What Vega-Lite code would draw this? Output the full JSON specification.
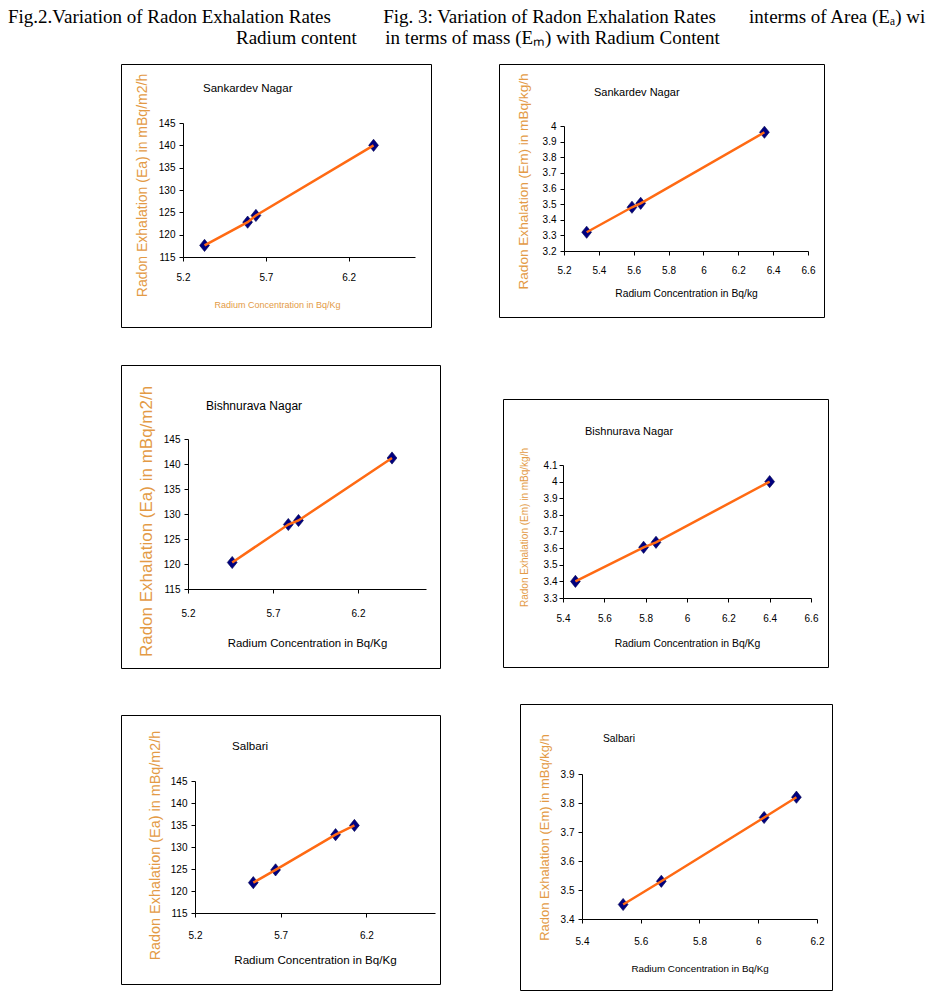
{
  "$schema": "https://vega.github.io/schema/vega-lite/v6.json",
  "padding": {"left": 8, "top": 8, "right": 0, "bottom": 0},
  "background": "white",
  "title": {
    "text": [
      "Fig.2.Variation of Radon Exhalation Rates\u00a0\u00a0\u00a0\u00a0\u00a0\u00a0\u00a0\u00a0\u00a0\u00a0\u00a0Fig. 3: Variation of Radon Exhalation Rates\u00a0\u00a0\u00a0\u00a0\u00a0\u00a0\u00a0interms of Area (E\u2090) wi",
      "\u200b\u00a0\u00a0\u00a0\u00a0\u00a0\u00a0\u00a0\u00a0\u00a0\u00a0\u00a0\u00a0\u00a0\u00a0\u00a0\u00a0\u00a0\u00a0\u00a0\u00a0\u00a0\u00a0\u00a0\u00a0\u00a0\u00a0\u00a0\u00a0\u00a0\u00a0\u00a0\u00a0\u00a0\u00a0\u00a0\u00a0\u00a0\u00a0\u00a0\u00a0\u00a0\u00a0\u00a0\u00a0\u00a0\u00a0\u00a0\u00a0Radium content\u00a0\u00a0\u00a0\u00a0\u00a0\u00a0in terms of mass (E\u2098) with Radium Content"
    ],
    "anchor": "start", "frame": "group", "dx": -113, "offset": 15.5,
    "fontSize": 19, "lineHeight": 21, "font": "Liberation Serif", "fontWeight": "normal", "color": "#000"
  },
  "datasets": {
    "sankardev": [
      {"site": "Sankardev Nagar", "ra": 5.33, "ea": 117.6, "em": 3.32},
      {"site": "Sankardev Nagar", "ra": 5.59, "ea": 122.8, "em": 3.48},
      {"site": "Sankardev Nagar", "ra": 5.64, "ea": 124.3, "em": 3.505},
      {"site": "Sankardev Nagar", "ra": 6.35, "ea": 140.0, "em": 3.96}
    ],
    "bishnurava": [
      {"site": "Bishnurava Nagar", "ra": 5.46, "ea": 120.3, "em": 3.40},
      {"site": "Bishnurava Nagar", "ra": 5.79, "ea": 127.9, "em": 3.605},
      {"site": "Bishnurava Nagar", "ra": 5.85, "ea": 128.7, "em": 3.635},
      {"site": "Bishnurava Nagar", "ra": 6.40, "ea": 141.2, "em": 4.0}
    ],
    "salbari": [
      {"site": "Salbari", "ra": 5.54, "ea": 121.9, "em": 3.45},
      {"site": "Salbari", "ra": 5.67, "ea": 124.8, "em": 3.53},
      {"site": "Salbari", "ra": 6.02, "ea": 132.8, "em": 3.75},
      {"site": "Salbari", "ra": 6.13, "ea": 134.9, "em": 3.82}
    ]
  },
  "columns": 2,
  "align": "none",
  "bounds": "full",
  "spacing": 0,
  "concat": [
    {
      "width": 310, "height": 263,
      "data": {"name": "sankardev"},
      "title": {"text": "Sankardev Nagar", "anchor": "start", "frame": "group", "dx": 82, "offset": -36, "baseline": "middle", "fontSize": 11.5},
      "layer": [
        {
          "mark": {"type": "point", "shape": "M0,-1L0.8,0L0,1L-0.8,0Z", "filled": true, "fill": "#000080", "stroke": "#00004a", "strokeWidth": 0.6, "size": 150, "opacity": 1},
          "encoding": {
            "x": {"field": "ra", "type": "quantitative",
              "scale": {"domain": [5.2, 6.6], "range": [62, 294], "nice": false, "zero": false},
              "axis": {"orient": "bottom", "offset": -70, "values": [5.2, 5.7, 6.2], "format": "~g", "labelPadding": 11, "minExtent": 18, "maxExtent": 18,
                "title": "Radium Concentration in Bq/Kg", "titleColor": "#E39A45", "titleFontSize": 9, "titlePadding": 25.5, "titleX": 156}},
            "y": {"field": "ea", "type": "quantitative",
              "scale": {"domain": [115, 145], "range": [193, 59], "nice": false, "zero": false},
              "axis": {"orient": "left", "offset": -62, "values": [115, 120, 125, 130, 135, 140, 145], "format": "~g", "labelPadding": 4, "minExtent": 22, "maxExtent": 22,
                "title": "Radon Exhalation (Ea) in mBq/m2/h", "titleColor": "#E39A45", "titleFontSize": 14, "titlePadding": 11.3, "titleY": 121}}
          }
        },
        {
          "mark": {"type": "line", "color": "#FF6A13", "strokeWidth": 2.5},
          "encoding": {
            "x": {"field": "ra", "type": "quantitative", "axis": null},
            "y": {"field": "ea", "type": "quantitative", "axis": null}
          }
        }
      ],
      "resolve": {"axis": {"x": "independent", "y": "independent"}}
    },
    {
      "width": 325, "height": 253,
      "data": {"name": "sankardev"},
      "title": {"text": "Sankardev Nagar", "anchor": "start", "frame": "group", "dx": 95, "offset": -40, "baseline": "middle", "fontSize": 11},
      "layer": [
        {
          "mark": {"type": "point", "shape": "M0,-1L0.8,0L0,1L-0.8,0Z", "filled": true, "fill": "#000080", "stroke": "#00004a", "strokeWidth": 0.6, "size": 150, "opacity": 1},
          "encoding": {
            "x": {"field": "ra", "type": "quantitative",
              "scale": {"domain": [5.2, 6.6], "range": [65, 309], "nice": false, "zero": false},
              "axis": {"orient": "bottom", "offset": -66, "values": [5.2, 5.4, 5.6, 5.8, 6, 6.2, 6.4, 6.6], "format": "~g", "labelPadding": 10, "minExtent": 18, "maxExtent": 18,
                "title": "Radium Concentration in Bq/kg", "titleColor": "#000", "titleFontSize": 10.3, "titlePadding": 19.9}},
            "y": {"field": "em", "type": "quantitative",
              "scale": {"domain": [3.2, 4.0], "range": [187, 62], "nice": false, "zero": false},
              "axis": {"orient": "left", "offset": -65, "values": [3.2, 3.3, 3.4, 3.5, 3.6, 3.7, 3.8, 3.9, 4], "format": "~g", "labelPadding": 4, "minExtent": 22, "maxExtent": 22,
                "title": "Radon Exhalation (Em) in mBq/kg/h", "titleColor": "#E39A45", "titleFontSize": 13.6, "titlePadding": 11.5, "titleY": 117}}
          }
        },
        {
          "mark": {"type": "line", "color": "#FF6A13", "strokeWidth": 2.5},
          "encoding": {
            "x": {"field": "ra", "type": "quantitative", "axis": null},
            "y": {"field": "em", "type": "quantitative", "axis": {"orient": "left", "minExtent": 57, "maxExtent": 57, "labels": false, "ticks": false, "domain": false, "grid": false, "title": null}}
          }
        }
      ],
      "resolve": {"axis": {"x": "independent", "y": "independent"}}
    },
    {
      "width": 319, "height": 303,
      "data": {"name": "bishnurava"},
      "title": {"text": "Bishnurava Nagar", "anchor": "start", "frame": "group", "dx": 85, "offset": -89, "baseline": "middle", "fontSize": 12},
      "layer": [
        {
          "mark": {"type": "point", "shape": "M0,-1L0.8,0L0,1L-0.8,0Z", "filled": true, "fill": "#000080", "stroke": "#00004a", "strokeWidth": 0.6, "size": 150, "opacity": 1},
          "encoding": {
            "x": {"field": "ra", "type": "quantitative",
              "scale": {"domain": [5.2, 6.6], "range": [67, 305], "nice": false, "zero": false},
              "axis": {"orient": "bottom", "offset": -79, "values": [5.2, 5.7, 6.2], "format": "~g", "labelPadding": 15, "minExtent": 18, "maxExtent": 18,
                "title": "Radium Concentration in Bq/Kg", "titleColor": "#000", "titleFontSize": 11.4, "titlePadding": 30.3}},
            "y": {"field": "ea", "type": "quantitative",
              "scale": {"domain": [115, 145], "range": [224, 74], "nice": false, "zero": false},
              "axis": {"orient": "left", "offset": -67, "values": [115, 120, 125, 130, 135, 140, 145], "format": "~g", "labelPadding": 4, "minExtent": 22, "maxExtent": 22,
                "title": "Radon Exhalation (Ea) in mBq/m2/h", "titleColor": "#E39A45", "titleFontSize": 17, "titlePadding": 10.6, "titleY": 156}}
          }
        },
        {
          "mark": {"type": "line", "color": "#FF6A13", "strokeWidth": 2.5},
          "encoding": {
            "x": {"field": "ra", "type": "quantitative", "axis": {"orient": "top", "minExtent": 36, "maxExtent": 36, "labels": false, "ticks": false, "domain": false, "grid": false, "title": null}},
            "y": {"field": "ea", "type": "quantitative", "axis": null}
          }
        }
      ],
      "resolve": {"axis": {"x": "independent", "y": "independent"}}
    },
    {
      "width": 325, "height": 268,
      "data": {"name": "bishnurava"},
      "title": {"text": "Bishnurava Nagar", "anchor": "start", "frame": "group", "dx": 82, "offset": -114, "baseline": "middle", "fontSize": 11},
      "layer": [
        {
          "mark": {"type": "point", "shape": "M0,-1L0.8,0L0,1L-0.8,0Z", "filled": true, "fill": "#000080", "stroke": "#00004a", "strokeWidth": 0.6, "size": 150, "opacity": 1},
          "encoding": {
            "x": {"field": "ra", "type": "quantitative",
              "scale": {"domain": [5.4, 6.6], "range": [60, 308], "nice": false, "zero": false},
              "axis": {"orient": "bottom", "offset": -69, "values": [5.4, 5.6, 5.8, 6, 6.2, 6.4, 6.6], "format": "~g", "labelPadding": 11, "minExtent": 18, "maxExtent": 18,
                "title": "Radium Concentration in Bq/Kg", "titleColor": "#000", "titleFontSize": 10.4, "titlePadding": 22.8}},
            "y": {"field": "em", "type": "quantitative",
              "scale": {"domain": [3.3, 4.1], "range": [199, 66], "nice": false, "zero": false},
              "axis": {"orient": "left", "offset": -60, "values": [3.3, 3.4, 3.5, 3.6, 3.7, 3.8, 3.9, 4, 4.1], "format": "~g", "labelPadding": 2, "minExtent": 22, "maxExtent": 22,
                "title": "Radon Exhalation (Em) in mBq/kg/h", "titleColor": "#E39A45", "titleFontSize": 10, "titlePadding": 11.5, "titleY": 128}}
          }
        },
        {
          "mark": {"type": "line", "color": "#FF6A13", "strokeWidth": 2.5},
          "encoding": {
            "x": {"field": "ra", "type": "quantitative", "axis": {"orient": "top", "minExtent": 70, "maxExtent": 70, "labels": false, "ticks": false, "domain": false, "grid": false, "title": null}},
            "y": {"field": "em", "type": "quantitative", "axis": {"orient": "left", "minExtent": 61, "maxExtent": 61, "labels": false, "ticks": false, "domain": false, "grid": false, "title": null}}
          }
        }
      ],
      "resolve": {"axis": {"x": "independent", "y": "independent"}}
    },
    {
      "width": 319, "height": 269,
      "data": {"name": "salbari"},
      "title": {"text": "Salbari", "anchor": "start", "frame": "group", "dx": 111, "offset": -89, "baseline": "middle", "fontSize": 11.6},
      "layer": [
        {
          "mark": {"type": "point", "shape": "M0,-1L0.8,0L0,1L-0.8,0Z", "filled": true, "fill": "#000080", "stroke": "#00004a", "strokeWidth": 0.6, "size": 150, "opacity": 1},
          "encoding": {
            "x": {"field": "ra", "type": "quantitative",
              "scale": {"domain": [5.2, 6.6], "range": [74, 314], "nice": false, "zero": false},
              "axis": {"orient": "bottom", "offset": -71, "values": [5.2, 5.7, 6.2], "format": "~g", "labelPadding": 13, "minExtent": 18, "maxExtent": 18,
                "title": "Radium Concentration in Bq/Kg", "titleColor": "#000", "titleFontSize": 11.6, "titlePadding": 23.2}},
            "y": {"field": "ea", "type": "quantitative",
              "scale": {"domain": [115, 145], "range": [198, 66], "nice": false, "zero": false},
              "axis": {"orient": "left", "offset": -74, "values": [115, 120, 125, 130, 135, 140, 145], "format": "~g", "labelPadding": 4, "minExtent": 22, "maxExtent": 22,
                "title": "Radon Exhalation (Ea) in mBq/m2/h", "titleColor": "#E39A45", "titleFontSize": 14.4, "titlePadding": 10.1, "titleY": 130}}
          }
        },
        {
          "mark": {"type": "line", "color": "#FF6A13", "strokeWidth": 2.5},
          "encoding": {
            "x": {"field": "ra", "type": "quantitative", "axis": {"orient": "top", "minExtent": 45, "maxExtent": 45, "labels": false, "ticks": false, "domain": false, "grid": false, "title": null}},
            "y": {"field": "ea", "type": "quantitative", "axis": null}
          }
        }
      ],
      "resolve": {"axis": {"x": "independent", "y": "independent"}}
    },
    {
      "width": 312, "height": 286,
      "data": {"name": "salbari"},
      "title": {"text": "Salbari", "anchor": "start", "frame": "group", "dx": 83, "offset": -45, "baseline": "middle", "fontSize": 10.3},
      "layer": [
        {
          "mark": {"type": "point", "shape": "M0,-1L0.8,0L0,1L-0.8,0Z", "filled": true, "fill": "#000080", "stroke": "#00004a", "strokeWidth": 0.6, "size": 150, "opacity": 1},
          "encoding": {
            "x": {"field": "ra", "type": "quantitative",
              "scale": {"domain": [5.4, 6.2], "range": [62, 297], "nice": false, "zero": false},
              "axis": {"orient": "bottom", "offset": -71, "values": [5.4, 5.6, 5.8, 6, 6.2], "format": "~g", "labelPadding": 13, "minExtent": 18, "maxExtent": 18,
                "title": "Radium Concentration in Bq/Kg", "titleColor": "#000", "titleFontSize": 9.8, "titlePadding": 26.1}},
            "y": {"field": "em", "type": "quantitative",
              "scale": {"domain": [3.4, 3.9], "range": [215, 70], "nice": false, "zero": false},
              "axis": {"orient": "left", "offset": -62, "values": [3.4, 3.5, 3.6, 3.7, 3.8, 3.9], "format": "~g", "labelPadding": 4, "minExtent": 22, "maxExtent": 22,
                "title": "Radon Exhalation (Em) in mBq/kg/h", "titleColor": "#E39A45", "titleFontSize": 13, "titlePadding": 8.85, "titleY": 133}}
          }
        },
        {
          "mark": {"type": "line", "color": "#FF6A13", "strokeWidth": 2.5},
          "encoding": {
            "x": {"field": "ra", "type": "quantitative", "axis": null},
            "y": {"field": "em", "type": "quantitative", "axis": {"orient": "left", "minExtent": 78, "maxExtent": 78, "labels": false, "ticks": false, "domain": false, "grid": false, "title": null}}
          }
        }
      ],
      "resolve": {"axis": {"x": "independent", "y": "independent"}}
    }
  ],
  "config": {
    "view": {"stroke": "#000", "strokeWidth": 1},
    "axis": {
      "grid": false, "domainColor": "#000", "domainWidth": 1, "tickColor": "#000", "tickWidth": 1, "tickSize": 4,
      "labelColor": "#000", "labelFont": "Liberation Sans", "labelFontSize": 10, "labelFlush": false, "labelOverlap": false,
      "titleFont": "Liberation Sans", "titleFontWeight": "normal"
    },
    "title": {"font": "Liberation Sans", "fontWeight": "normal", "color": "#000"}
  }
}
